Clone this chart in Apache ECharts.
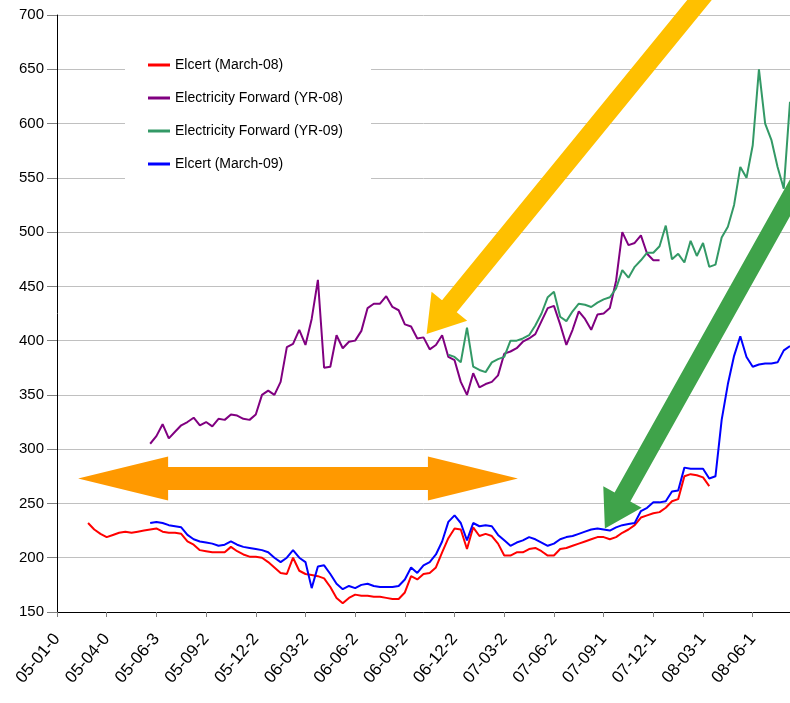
<!DOCTYPE html>
<html>
<head>
<meta charset="utf-8">
<script src="https://cdn.jsdelivr.net/npm/echarts@6/dist/echarts.min.js"></script>
<style>
  html, body { margin: 0; padding: 0; background: #fff; }
  #main { width: 790px; height: 703px; }
</style>
</head>
<body>
<div id="main"></div>
<script>
// x positions are sample steps, 8 steps between two tick labels
var tickLabels = ['05-01-0', '05-04-0', '05-06-3', '05-09-2', '05-12-2', '06-03-2', '06-06-2', '06-09-2',
  '06-12-2', '07-03-2', '07-06-2', '07-09-1', '07-12-1', '08-03-1', '08-06-1'];
var stepsPerTick = 8;
var lastStep = 118;

var seriesNames = ['Elcert (March-08)', 'Electricity Forward (YR-08)', 'Electricity Forward (YR-09)', 'Elcert (March-09)'];
var seriesColors = ['#FF0000', '#800080', '#339966', '#0000FF'];

var elcert08Start = 5;
var elcert08 = [232, 226, 222, 219, 221, 223, 224, 223, 224, 225, 226, 227, 224, 223, 223, 222, 215, 212, 207, 206,
  205, 205, 205, 210, 206, 203, 201, 201, 200, 196, 191, 186, 185, 200, 188, 185, 184, 183, 181, 173,
  163, 158, 163, 166, 165, 165, 164, 164, 163, 162, 162, 168, 183, 180, 185, 186, 191, 205, 218, 227,
  226, 208, 228, 220, 222, 220, 213, 202, 202, 205, 205, 208, 209, 206, 202, 202, 208, 209, 211, 213,
  215, 217, 219, 219, 217, 219, 223, 226, 230, 237, 239, 241, 242, 246, 252, 254, 275, 277, 276, 274, 266];

var forward08Start = 15;
var forward08 = [305, 312, 323, 310, 316, 322, 325, 329, 322, 325, 321, 328, 327, 332, 331, 328, 327, 332, 350, 354,
  350, 362, 394, 397, 410, 396, 420, 456, 375, 376, 405, 393, 399, 400, 409, 430, 434, 434, 441, 431,
  428, 415, 413, 402, 403, 392, 396, 405, 385, 382, 362, 350, 370, 357, 360, 362, 368, 388, 390, 393,
  399, 402, 406, 418, 430, 432, 415, 396, 410, 427, 420, 410, 424, 425, 430, 455, 500, 488, 490, 497,
  480, 474, 474];

var forward09Start = 63;
var forward09 = [387, 385, 380, 412, 376, 373, 371, 380, 383, 385, 400, 400, 402, 405, 414, 425, 440, 445, 422, 418,
  427, 434, 433, 431, 435, 438, 440, 448, 465, 458, 468, 474, 481, 481, 487, 506, 475, 480, 472, 492,
  478, 490, 468, 470, 495, 505, 525, 560, 550, 580, 650, 600, 585, 560, 540, 620];

var elcert09Start = 15;
var elcert09 = [232, 233, 232, 230, 229, 228, 221, 217, 215, 214, 213, 211, 212, 215, 212, 210, 209, 208, 207, 205,
  200, 196, 200, 207, 200, 196, 172, 192, 193, 185, 176, 171, 174, 172, 175, 176, 174, 173, 173, 173,
  174, 180, 191, 186, 193, 196, 203, 215, 233, 239, 232, 216, 232, 229, 230, 229, 221, 216, 211, 214,
  216, 219, 217, 214, 211, 213, 217, 219, 220, 222, 224, 226, 227, 226, 225, 228, 230, 231, 232, 243,
  246, 251, 251, 252, 261, 262, 283, 282, 282, 282, 273, 275, 327, 360, 386, 404, 385, 376, 378, 379,
  379, 380, 391, 395];

// annotation arrows, ends given as [step, value]
var arrowBoth = { from: [3.4, 273], to: [74.2, 273], color: '#FF9900', width: 23, headW: 44, headL: 90 };
var arrowYellow = { from: [104.6, 722], to: [59.5, 406], color: '#FFC000', width: 19, headW: 46, headL: 36 };
var arrowGreen = { from: [119.6, 548], to: [88.2, 227], color: '#3FA34A', width: 18, headW: 44, headL: 36 };

function toPairs(start, values) {
  return values.map(function (v, k) { return [start + k, v]; });
}

var chartDom = document.getElementById('main');
var myChart = echarts.init(chartDom);

var lists = [[elcert08Start, elcert08], [forward08Start, forward08], [forward09Start, forward09], [elcert09Start, elcert09]];
var series = lists.map(function (d, k) {
  return {
    name: seriesNames[k],
    type: 'line',
    data: toPairs(d[0], d[1]),
    showSymbol: false,
    lineStyle: { color: seriesColors[k], width: 2 },
    itemStyle: { color: seriesColors[k] },
    animation: false
  };
});

var option = {
  animation: false,
  grid: { left: 57, right: 0, top: 15, bottom: 91 },
  legend: {
    orient: 'vertical',
    left: 125,
    top: 48,
    padding: [10, 28, 12, 23],
    backgroundColor: '#fff',
    itemWidth: 22,
    itemHeight: 3,
    itemGap: 19,
    icon: 'rect',
    data: seriesNames,
    textStyle: { fontFamily: 'Liberation Sans', fontSize: 14, color: '#000' }
  },
  xAxis: {
    type: 'value',
    min: 0,
    max: lastStep,
    interval: stepsPerTick,
    splitLine: { show: false },
    axisLine: { lineStyle: { color: '#000', width: 1 } },
    axisTick: { length: 5, lineStyle: { color: '#808080' } },
    axisLabel: {
      rotate: 50,
      margin: 24,
      showMaxLabel: false,
      fontFamily: 'Liberation Sans',
      fontSize: 17,
      color: '#000',
      formatter: function (v) {
        return v % stepsPerTick === 0 ? (tickLabels[v / stepsPerTick] || '') : '';
      }
    }
  },
  yAxis: {
    type: 'value',
    min: 150,
    max: 700,
    interval: 50,
    axisLine: { show: true, lineStyle: { color: '#000', width: 1 } },
    axisTick: { show: true, inside: false, length: 10, lineStyle: { color: '#808080' } },
    splitLine: { lineStyle: { color: '#C0C0C0', width: 1 } },
    axisLabel: { margin: 13, fontFamily: 'Liberation Sans', fontSize: 15, color: '#000' }
  },
  series: series
};

myChart.setOption(option);

function arrowPoints(a, both) {
  var p0 = myChart.convertToPixel({ gridIndex: 0 }, a.from);
  var p1 = myChart.convertToPixel({ gridIndex: 0 }, a.to);
  var dx = p1[0] - p0[0], dy = p1[1] - p0[1];
  var len = Math.sqrt(dx * dx + dy * dy);
  var ux = dx / len, uy = dy / len;
  var nx = -uy, ny = ux;
  var w = a.width / 2, hw = a.headW / 2;
  function at(t, s) { return [p0[0] + ux * t + nx * s, p0[1] + uy * t + ny * s]; }
  var pts = [];
  if (both) {
    pts.push(at(0, 0), at(a.headL, hw), at(a.headL, w));
  } else {
    pts.push(at(0, w));
  }
  pts.push(at(len - a.headL, w), at(len - a.headL, hw), at(len, 0), at(len - a.headL, -hw), at(len - a.headL, -w));
  if (both) {
    pts.push(at(a.headL, -w), at(a.headL, -hw));
  } else {
    pts.push(at(0, -w));
  }
  return pts;
}

function arrowGraphic(a, both) {
  return {
    type: 'polygon',
    z: 100,
    shape: { points: arrowPoints(a, both) },
    style: { fill: a.color }
  };
}

myChart.setOption({
  graphic: [
    arrowGraphic(arrowBoth, true),
    arrowGraphic(arrowYellow, false),
    arrowGraphic(arrowGreen, false)
  ]
});
</script>
</body>
</html>
